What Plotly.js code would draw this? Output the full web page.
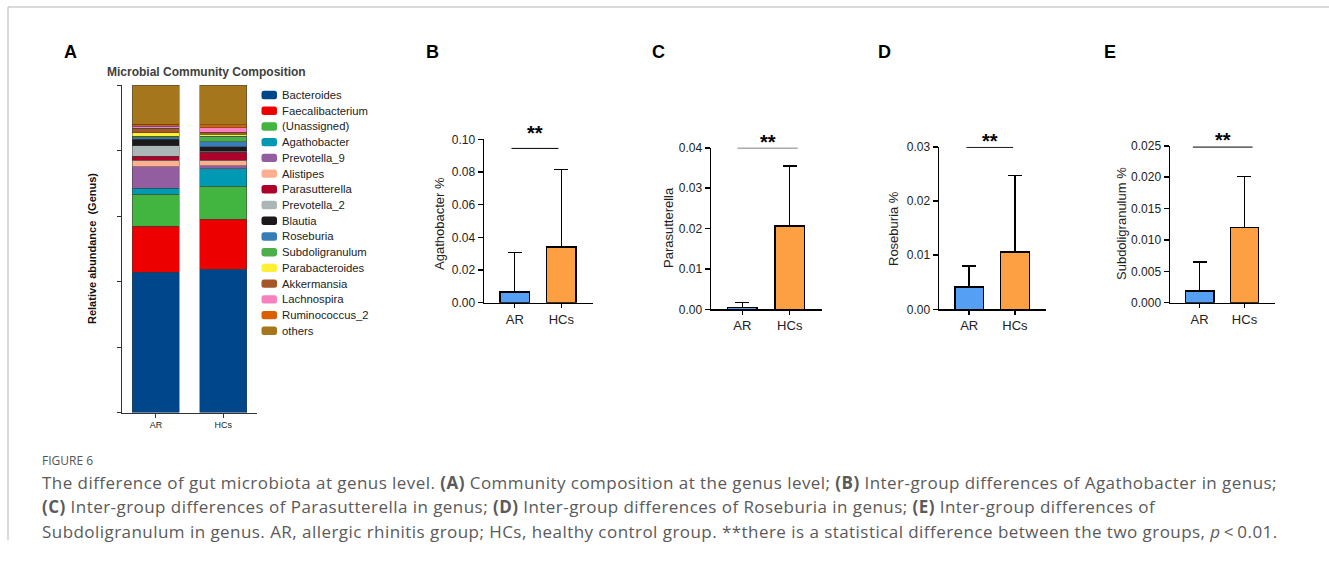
<!DOCTYPE html>
<html>
<head>
<meta charset="utf-8">
<script src="https://cdn.plot.ly/plotly-3.0.1.min.js"></script>
<style>html,body{margin:0;padding:0;background:#fff;}#chart{width:1329px;height:565px;}</style>
</head>
<body>
<div id="chart"></div>
<script>
// ---------- DATA ----------
const groups = ['AR', 'HCs'];
const genera = ['Bacteroides','Faecalibacterium','(Unassigned)','Agathobacter','Prevotella_9','Alistipes','Parasutterella','Prevotella_2','Blautia','Roseburia','Subdoligranulum','Parabacteroides','Akkermansia','Lachnospira','Ruminococcus_2','others'];
const abundAR = [0.428,0.141,0.098,0.018,0.066,0.020,0.012,0.032,0.020,0.004,0.004,0.011,0.014,0.006,0.006,0.120];
const abundHC = [0.437,0.153,0.101,0.053,0.009,0.018,0.024,0.002,0.015,0.014,0.018,0.006,0.006,0.014,0.008,0.122];

const agathoMean = [0.0064, 0.0343];
const agathoSD   = [0.0242, 0.0473];
const parasMean  = [0.0004, 0.0206];
const parasSD    = [0.0013, 0.0149];
const rosebMean  = [0.0041, 0.0106];
const rosebSD    = [0.0039, 0.0141];
const subdoMean  = [0.0019, 0.0120];
const subdoSD    = [0.0046, 0.0081];

// ---------- STYLE ----------
const generaColors = ['#00468B','#ED0000','#42B540','#0099B4','#925E9F','#FDAF91','#AD002A','#ADB6B6','#1B1919','#377EB8','#4DAF4A','#FFF033','#A65628','#F781BF','#D95F02','#A6761D'];
const groupColors = ['#559FF5', '#FDA043'];
const W = 1329, H = 565;
const px = x => x / W;
const py = y => 1 - y / H;
const FONT = 'Liberation Sans, Arial, sans-serif';

const traces = [];
genera.forEach((g, i) => {
  traces.push({
    type: 'bar', x: groups, y: [abundAR[i], abundHC[i]], name: g,
    width: 0.696, xaxis: 'x', yaxis: 'y', showlegend: false,
    marker: {color: generaColors[i], line: {color: 'rgba(60,60,60,0.8)', width: 0.6}},
    hoverinfo: 'name+y'
  });
});

const panels = [
  {ax: 2, mean: agathoMean, sd: agathoSD, max: 0.10, dtick: 0.02, fmt: '.2f', xd: [484, 593], yd: [139.3, 302.7], title: 'Agathobacter %', tx: 439, ty: 224, sig: [-0.07, 0.94], sigY: 0.0945, letter: 'B', lx: 432},
  {ax: 3, mean: parasMean, sd: parasSD, max: 0.04, dtick: 0.01, fmt: '.2f', xd: [711, 822], yd: [147.7, 309.3], title: 'Parasutterella', tx: 668, ty: 228, sig: [-0.1, 1.17], sigY: 0.04, letter: 'C', lx: 658},
  {ax: 4, mean: rosebMean, sd: rosebSD, max: 0.03, dtick: 0.01, fmt: '.2f', xd: [939, 1046], yd: [146.7, 309.3], title: 'Roseburia %', tx: 893, ty: 229, sig: [-0.06, 0.96], sigY: 0.0299, letter: 'D', lx: 884},
  {ax: 5, mean: subdoMean, sd: subdoSD, max: 0.025, dtick: 0.005, fmt: '.3f', xd: [1170, 1275], yd: [145.7, 302.7], title: 'Subdoligranulum %', tx: 1121, ty: 224, sig: [-0.15, 1.18], sigY: 0.0248, letter: 'E', lx: 1110}
];

const layout = {
  width: W, height: H, margin: {l: 0, r: 0, t: 0, b: 0},
  paper_bgcolor: '#fff', plot_bgcolor: 'rgba(0,0,0,0)',
  barmode: 'stack', showlegend: false,
  font: {family: FONT, color: '#222'},
  xaxis: {domain: [px(121.5), px(257)], anchor: 'y', range: [-0.51, 1.5], showline: true, linecolor: '#333', linewidth: 1,
          ticks: 'outside', ticklen: 4, tickcolor: '#333', tickfont: {size: 9, color: '#222'}, showgrid: false, zeroline: false, fixedrange: true},
  yaxis: {domain: [py(412.5), py(85)], anchor: 'x', range: [0, 1], tickvals: [0, 0.2, 0.4, 0.6, 0.8, 1.0], showticklabels: false,
          showline: true, linecolor: '#333', linewidth: 1, ticks: 'outside', ticklen: 4, tickcolor: '#333', showgrid: false, zeroline: false, fixedrange: true},
  shapes: [], annotations: []
};

panels.forEach(p => {
  const xa = 'xaxis' + p.ax, ya = 'yaxis' + p.ax;
  traces.push({
    type: 'bar', x: groups, y: p.mean, width: 0.63,
    xaxis: 'x' + p.ax, yaxis: 'y' + p.ax, showlegend: false,
    marker: {color: groupColors, line: {color: '#000', width: 1.6}},
    error_y: {type: 'data', symmetric: false, array: p.sd, arrayminus: [0, 0], color: '#000', thickness: 1.5, width: 7}
  });
  layout[xa] = {domain: [px(p.xd[0]), px(p.xd[1])], anchor: 'y' + p.ax, range: [-0.66, 1.68],
    showline: true, linecolor: '#000', linewidth: 1.5, ticks: 'outside', ticklen: 4, tickwidth: 1.5, tickcolor: '#000',
    tickfont: {size: 13, color: '#222'}, showgrid: false, zeroline: false, fixedrange: true};
  layout[ya] = {domain: [py(p.yd[1]), py(p.yd[0])], anchor: 'x' + p.ax, range: [0, p.max * 1.0008], dtick: p.dtick, tick0: 0,
    tickformat: p.fmt, showline: true, linecolor: '#000', linewidth: 1.5, ticks: 'outside', ticklen: 5, tickwidth: 1.5, tickcolor: '#000',
    tickfont: {size: 12, color: '#222'}, showgrid: false, zeroline: false, fixedrange: true};
  layout.annotations.push({text: p.title, xref: 'paper', yref: 'paper', x: px(p.tx), y: py(p.ty), textangle: -90,
    showarrow: false, xanchor: 'center', yanchor: 'middle', font: {size: 13, color: '#222'}});
  layout.shapes.push({type: 'line', xref: 'x' + p.ax, yref: 'y' + p.ax, x0: p.sig[0], x1: p.sig[1], y0: p.sigY, y1: p.sigY,
    line: {color: '#000', width: 1}});
  layout.annotations.push({text: '<b>**</b>', xref: 'x' + p.ax, yref: 'paper', x: (p.sig[0] + p.sig[1]) / 2, y: py(p.yd[0] - 6),
    showarrow: false, xanchor: 'center', yanchor: 'middle', font: {size: 20, color: '#000', family: FONT}});
  layout.annotations.push({text: '<b>' + p.letter + '</b>', xref: 'paper', yref: 'paper', x: px(p.lx), y: py(52),
    showarrow: false, xanchor: 'center', yanchor: 'middle', font: {size: 18, color: '#000'}});
});

// Panel A texts
layout.annotations.push({text: '<b>A</b>', xref: 'paper', yref: 'paper', x: px(70), y: py(52), showarrow: false,
  xanchor: 'center', yanchor: 'middle', font: {size: 18, color: '#000'}});
layout.annotations.push({text: '<b>Microbial Community Composition</b>', xref: 'paper', yref: 'paper', x: px(206), y: py(72),
  showarrow: false, xanchor: 'center', yanchor: 'middle', font: {size: 12, color: '#404040'}});
layout.annotations.push({text: '<b>Relative abundance  (Genus)</b>', xref: 'paper', yref: 'paper', x: px(92), y: py(249),
  textangle: -90, showarrow: false, xanchor: 'center', yanchor: 'middle', font: {size: 11, color: '#111'}});

// Manual legend for panel A
genera.forEach((g, i) => {
  const cy = 95 + 15.72 * i;
  const x0 = 261.5, x1 = 277, y0 = cy - 4.2, y1 = cy + 4.2, r = 2.5;
  const P = (x, y) => px(x) + ',' + py(y);
  const path = 'M' + P(x0 + r, y0) + ' L' + P(x1 - r, y0) + ' Q' + P(x1, y0) + ' ' + P(x1, y0 + r) +
    ' L' + P(x1, y1 - r) + ' Q' + P(x1, y1) + ' ' + P(x1 - r, y1) + ' L' + P(x0 + r, y1) +
    ' Q' + P(x0, y1) + ' ' + P(x0, y1 - r) + ' L' + P(x0, y0 + r) + ' Q' + P(x0, y0) + ' ' + P(x0 + r, y0) + ' Z';
  layout.shapes.push({type: 'path', xref: 'paper', yref: 'paper', path: path, fillcolor: generaColors[i], line: {width: 0}});
  layout.annotations.push({text: g, xref: 'paper', yref: 'paper', x: px(280), y: py(cy), showarrow: false,
    xanchor: 'left', yanchor: 'middle', font: {size: 11.3, color: '#222'}});
});

// Frame lines
layout.shapes.push({type: 'line', xref: 'paper', yref: 'paper', x0: px(8), x1: 1, y0: py(7), y1: py(7), line: {color: '#b5b5b5', width: 1}});
layout.shapes.push({type: 'line', xref: 'paper', yref: 'paper', x0: px(8), x1: px(8), y0: py(7), y1: py(540), line: {color: '#b5b5b5', width: 1}});

// Caption
const CAP = 'Open Sans, Noto Sans, sans-serif';
const capLines = [
  'The difference of gut microbiota at genus level. <b>(A)</b> Community composition at the genus level; <b>(B)</b> Inter-group differences of Agathobacter in genus;',
  '<b>(C)</b> Inter-group differences of Parasutterella in genus; <b>(D)</b> Inter-group differences of Roseburia in genus; <b>(E)</b> Inter-group differences of',
  'Subdoligranulum in genus. AR, allergic rhinitis group; HCs, healthy control group. **there is a statistical difference between the two groups, <i>p</i>\u2009&lt;\u20090.01.'
];
layout.annotations.push({text: 'FIGURE 6', xref: 'paper', yref: 'paper', x: px(40), y: py(460), showarrow: false,
  xanchor: 'left', yanchor: 'middle', font: {size: 12, color: '#555', family: CAP}});
capLines.forEach((t, i) => {
  layout.annotations.push({text: t, xref: 'paper', yref: 'paper', x: px(40), y: py(482 + 24.5 * i), showarrow: false,
    xanchor: 'left', yanchor: 'middle', align: 'left', font: {size: 17, color: '#5a5a5a', family: CAP}});
});

Plotly.newPlot('chart', traces, layout, {displayModeBar: false, staticPlot: true}).then(gd => {
  gd.querySelectorAll('.annotation-text').forEach(t => {
    if (t.textContent.length > 60) t.style.letterSpacing = '0.45px';
  });
});
</script>
</body>
</html>
